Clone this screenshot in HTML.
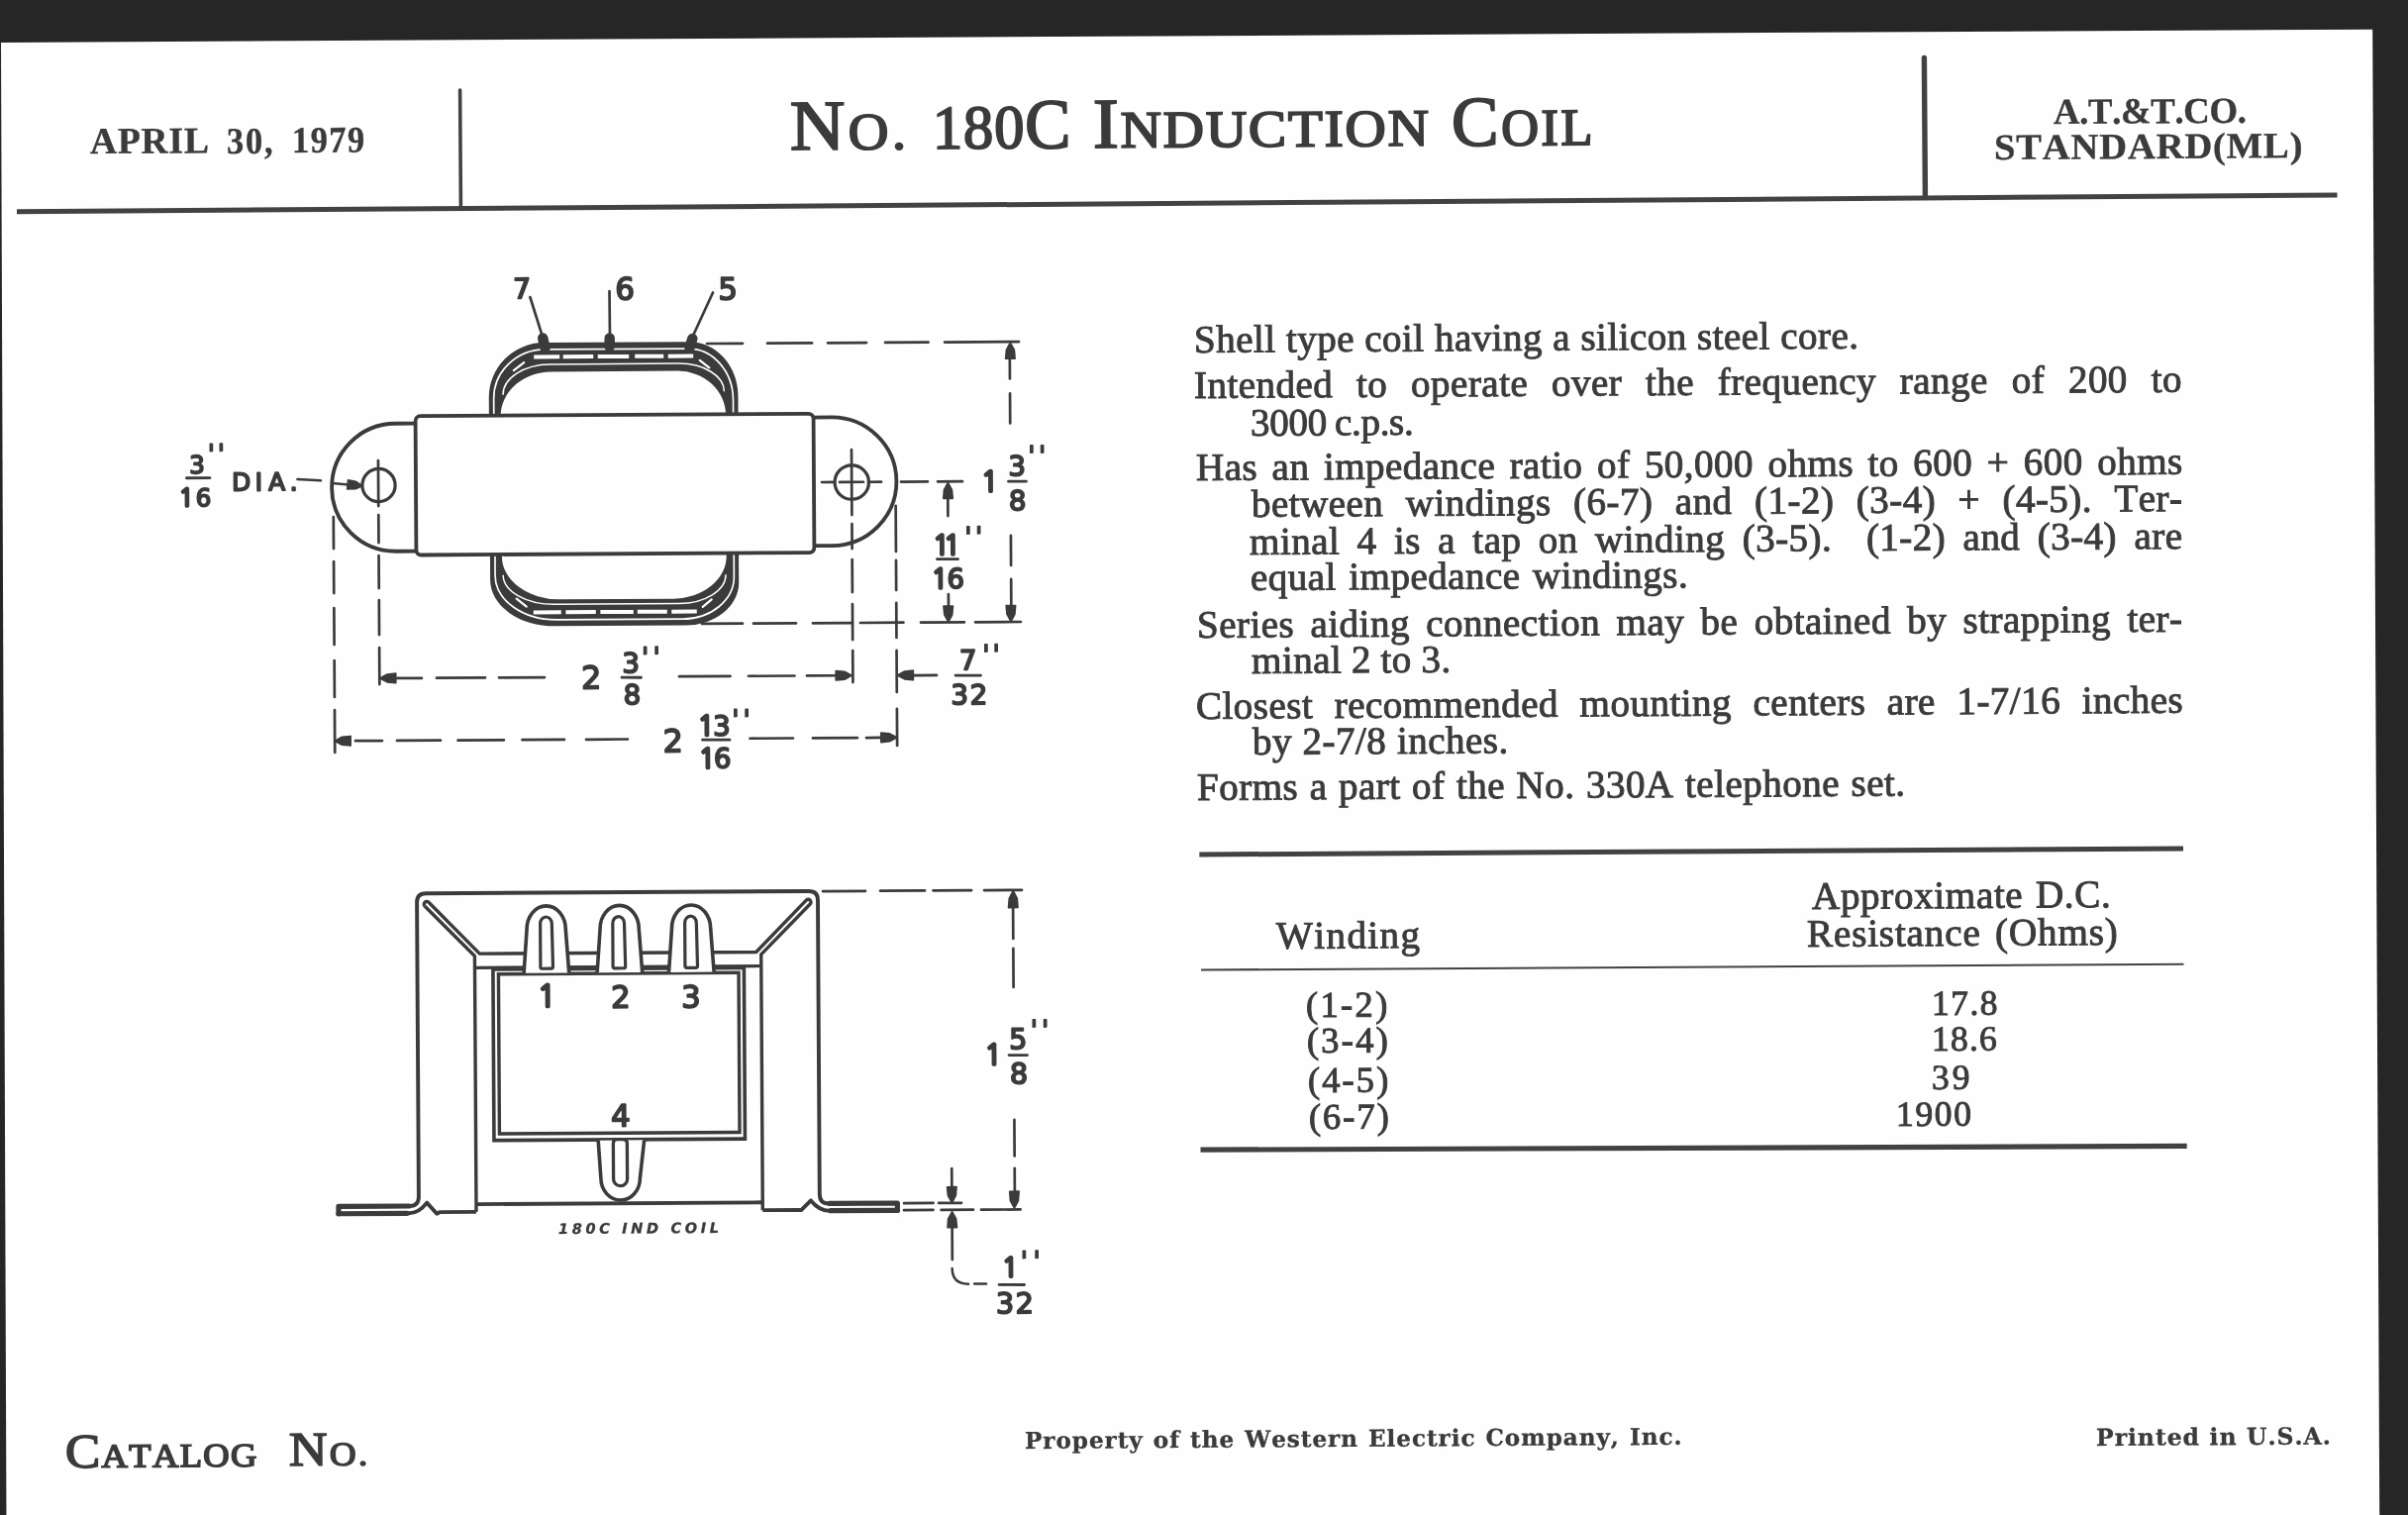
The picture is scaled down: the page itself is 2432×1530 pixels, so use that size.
<!DOCTYPE html>
<html lang="en"><head><meta charset="utf-8"><title>No. 180C Induction Coil</title>
<style>
html,body{margin:0;padding:0}
body{width:2432px;height:1530px;overflow:hidden;position:relative;background:#262626;color:#3b3b3b}
#pg{position:absolute;left:-10px;top:-10px;width:2452px;height:1550px;filter:blur(.55px)}
#pg>*{margin-left:10px;margin-top:10px}
#art{position:absolute;left:0;top:0}
.t{position:absolute;white-space:pre;line-height:1;font-kerning:none;font-variant-ligatures:none;
transform:rotate(-0.3610deg)}
</style></head>
<body>
<div id="pg">
<svg id="art" width="2432" height="1545" viewBox="0 0 2432 1545">
<polygon points="1,42.9 2396.2,29.7 2403.3,1545 6.5,1545" fill="#fefefe"/>
<g stroke="#424242" fill="none" stroke-linecap="butt">
<path d="M17,213.8Q1188,208.4 2360.5,197" stroke-width="5"/>
<line x1="464.6" y1="91" x2="465.4" y2="211" stroke-width="3.6" stroke-linecap="round"/>
<line x1="1943.4" y1="58.5" x2="1944.4" y2="197" stroke-width="5.4" stroke-linecap="round"/>
<line x1="1211.3" y1="863" x2="2205" y2="857" stroke-width="5"/>
<line x1="1213" y1="979.5" x2="2205.5" y2="973.8" stroke-width="2.1"/>
<line x1="1212.5" y1="1161.2" x2="2208.7" y2="1157.4" stroke-width="5.2"/>
</g>
<g fill="#3b3b3b">
<g transform="rotate(-0.3495 620 489)" stroke="#3b3b3b" fill="none" font-family="'DejaVu Sans','Liberation Sans',sans-serif" style="font-kerning:none"><path d="M494.3,425V401.0A55.7,55.4 0 0 1 550.0,345.6H697.0A49,55 0 0 1 746.0,400.6V425Z" fill="#3b3b3b" stroke="none"/>
<path d="M506.0,425V420.0A51,45 0 0 1 557.0,375.0H685.0A48.5,45 0 0 1 733.5,420.0V425Z" fill="#fefefe" stroke="none"/>
<path d="M499.2,425V402.0A51.8,49.5 0 0 1 551.0,352.5H696.0A45,52 0 0 1 741.0,404.5V425" stroke="#fff" stroke-width="1.7" fill="none"/>
<path d="M508.6,398A47.4,30.5 0 0 1 556,367.5H686A46,28.5 0 0 1 732,396" stroke="#fff" stroke-width="1.5" fill="none"/>
<path d="M540,360.0H566M569.5,360.0H600M604.5,360.0H636M642,360.0H671M675.5,360.0H701" stroke="#fff" stroke-width="4" fill="none"/>
<path d="M519.5,373.5L530,365.5M707.5,364.5L717,372" stroke="#fff" stroke-width="2.2" stroke-linecap="round" fill="none"/>
<path d="M494.5,553V585.0A65,47 0 0 0 559.5,632.0H691.6A54,43 0 0 0 745.6,589.0V553Z" fill="#3b3b3b" stroke="none"/>
<path d="M506.5,553V561.5A58,43.5 0 0 0 564.5,605.0H679.3A54,43 0 0 0 733.3,562.0V553Z" fill="#fefefe" stroke="none"/>
<path d="M499.5,553V580.6A62,45 0 0 0 561.5,625.6H688.8A52,42.5 0 0 0 740.8,583.1V553" stroke="#fff" stroke-width="1.7" fill="none"/>
<path d="M507.6,580A52.4,30 0 0 0 560,610H685A47.5,29 0 0 0 732.5,581" stroke="#fff" stroke-width="1.5" fill="none"/>
<path d="M538,618.0H566M570.6,618.0H601M605.6,618.0H639M643,618.0H673M677.5,618.0H703" stroke="#fff" stroke-width="4" fill="none"/>
<path d="M521,604L531,612M709,613.5L718,606" stroke="#fff" stroke-width="2.2" stroke-linecap="round" fill="none"/>
<line x1="549.1" y1="341.1" x2="551.4" y2="351.1" stroke-width="10.5" stroke-linecap="round"/>
<line x1="616.6" y1="341.5" x2="616.5" y2="350.0" stroke-width="10.5" stroke-linecap="round"/>
<line x1="700.2" y1="342.5" x2="697.4" y2="351.5" stroke-width="10.5" stroke-linecap="round"/>
<line x1="536.5" y1="299.5" x2="548.9" y2="339.6" stroke-width="2.7" stroke-linecap="round"/>
<line x1="616.7" y1="294.0" x2="616.9" y2="340.0" stroke-width="2.7" stroke-linecap="round"/>
<line x1="721.2" y1="296.1" x2="700.4" y2="340.5" stroke-width="2.7" stroke-linecap="round"/>
<path d="M421,426.4H399.6A64.5,64.5 0 0 0 399.6,555.4H421" stroke-width="3.8" fill="#fefefe"/>
<path d="M821,422.8H840A65.4,64.8 0 0 1 840,552.4H821" stroke-width="3.8" fill="#fefefe"/>
<rect x="420" y="419" width="402" height="140.3" rx="5" ry="5" fill="#fefefe" stroke-width="3.8"/>
<circle cx="382.5" cy="488.6" r="16.6" stroke-width="3.2"/>
<circle cx="860.3" cy="488.5" r="17.2" stroke-width="3.2"/>
<path d="M382.1,463.6V509.6M382.1,518.6V546.6M382.1,559.6V592.6M382.1,604.6V639.6M382.1,652.6V689.6" stroke-width="2.7" stroke-linecap="round" fill="none"/>
<path d="M336.6,520.3V552.3M336.6,565.3V597.3M336.6,612.3V649.3M336.6,665.3V702.3M336.6,715.3V758.3" stroke-width="2.7" stroke-linecap="round" fill="none"/>
<path d="M860.2,455.5V521.5M860.2,530.5V555.5M860.2,566.5V599.5M860.2,611.5V647.5M860.2,658.5V690.5" stroke-width="2.7" stroke-linecap="round" fill="none"/>
<path d="M904.5,512.7V558.7M904.5,567.7V597.7M904.5,610.7V645.7M904.5,658.7V700.7M904.5,717.7V754.7" stroke-width="2.7" stroke-linecap="round" fill="none"/>
<path d="M830.0,488.3H843.0M848.0,488.3H872.0M877.0,488.3H890.0M910.0,488.3H937.0M947.0,488.3H972.0" stroke-width="2.7" stroke-linecap="round" fill="none"/>
<line x1="300.5" y1="482.1" x2="324.0" y2="483.5" stroke-width="2.6" stroke-linecap="round"/>
<line x1="336.0" y1="486.3" x2="352.0" y2="487.9" stroke-width="2.6" stroke-linecap="round"/>
<polygon points="366.0,489.1 358.9,492.2 350.6,492.2 351.5,483.2 359.6,484.7" fill="#3b3b3b" stroke-width="1.6" stroke-linejoin="round"/>
<path d="M714.9,347.6H750.9M775.9,347.6H820.9M836.9,347.6H875.9M894.9,347.6H938.4M954.9,347.6H1029.9" stroke-width="2.7" stroke-linecap="round" fill="none"/>
<path d="M708.1,630.5H749.1M760.1,630.5H803.1M820.1,630.5H859.1M868.1,630.5H911.6M929.1,630.5H973.1M984.1,630.5H1030.1" stroke-width="2.7" stroke-linecap="round" fill="none"/>
<path d="M1020.6,362.4V384.9M1020.6,399.9V429.9M1020.6,543.4V573.4M1020.6,587.4V617.4" stroke-width="2.7" stroke-linecap="round" fill="none"/>
<polygon points="1021.2,348.7 1025.2,355.9 1025.9,364.7 1016.4,364.7 1017.2,355.9" fill="#3b3b3b" stroke-width="1.6" stroke-linejoin="round"/>
<polygon points="1020.2,630.0 1016.2,622.8 1015.4,614.0 1024.9,614.0 1024.1,622.8" fill="#3b3b3b" stroke-width="1.6" stroke-linejoin="round"/>
<path d="M957.2,505.1V523.1M957.2,602.1V617.1" stroke-width="2.7" stroke-linecap="round" fill="none"/>
<polygon points="957.4,489.5 961.4,496.7 962.2,505.5 952.7,505.5 953.4,496.7" fill="#3b3b3b" stroke-width="1.6" stroke-linejoin="round"/>
<polygon points="957.0,630.1 953.0,622.9 952.2,614.1 961.7,614.1 960.9,622.9" fill="#3b3b3b" stroke-width="1.6" stroke-linejoin="round"/>
<path d="M399.8,683.6H424.8M439.8,683.6H488.8M502.8,683.6H548.8M684.8,683.6H736.3M754.8,683.6H801.3M813.8,683.6H842.8" stroke-width="2.7" stroke-linecap="round" fill="none"/>
<polygon points="382.6,683.6 389.8,679.6 398.6,678.8 398.6,688.3 389.8,687.5" fill="#3b3b3b" stroke-width="1.6" stroke-linejoin="round"/>
<polygon points="859.0,683.6 851.8,687.6 843.0,688.3 843.0,678.8 851.8,679.6" fill="#3b3b3b" stroke-width="1.6" stroke-linejoin="round"/>
<path d="M921.8,683.9H944.8" stroke-width="2.7" stroke-linecap="round" fill="none"/>
<polygon points="905.2,683.7 912.4,679.8 921.2,679.0 921.2,688.5 912.4,687.7" fill="#3b3b3b" stroke-width="1.6" stroke-linejoin="round"/>
<path d="M357.4,746.6H384.4M399.4,746.6H443.4M460.9,746.6H507.4M525.9,746.6H568.4M590.4,746.6H632.4M755.9,746.6H799.4M819.4,746.6H864.4M873.4,746.6H887.4" stroke-width="2.7" stroke-linecap="round" fill="none"/>
<polygon points="336.6,746.6 343.8,742.6 352.6,741.8 352.6,751.3 343.8,750.6" fill="#3b3b3b" stroke-width="1.6" stroke-linejoin="round"/>
<polygon points="904.2,746.5 897.0,750.5 888.2,751.3 888.2,741.8 897.0,742.6" fill="#3b3b3b" stroke-width="1.6" stroke-linejoin="round"/>
<text x="519.5" y="300.6" font-size="28" stroke-width="1.9" stroke-linejoin="round" fill="#3b3b3b">7</text>
<text x="622.6" y="302.6" font-size="30.5" stroke-width="1.9" stroke-linejoin="round" fill="#3b3b3b">6</text>
<text x="726.6" y="303.2" font-size="30.5" stroke-width="1.9" stroke-linejoin="round" fill="#3b3b3b">5</text>
<text x="191.3" y="475.4" font-size="24.5" stroke-width="1.9" stroke-linejoin="round" fill="#3b3b3b">3</text>
<line x1="188.5" y1="480.1" x2="212.0" y2="480.2" stroke-width="2.8" stroke-linecap="round"/>
<text x="180.7 197.5" y="508.7" font-size="24.5" stroke-width="1.9" stroke-linejoin="round" fill="#3b3b3b"><tspan font-family="'NanumGothic','IPAGothic','DejaVu Sans',sans-serif" font-size="24.5" stroke-width="2.9">1</tspan>6</text>
<text x="209.8 220.0" y="465.4" font-size="27" stroke-width="1.5" stroke-linejoin="round" fill="#3b3b3b">&#39;&#39;</text>
<text x="234.3 257.6 271.3 292.8" y="493.2" font-size="24.6" stroke-width="1.9" stroke-linejoin="round" fill="#3b3b3b">DIA.</text>
<text x="990.9" y="498.8" font-size="28.5" stroke-width="1.9" stroke-linejoin="round" fill="#3b3b3b"><tspan font-family="'NanumGothic','IPAGothic','DejaVu Sans',sans-serif" font-size="28.5" stroke-width="2.9">1</tspan></text>
<text x="1018.6" y="482.8" font-size="27.5" stroke-width="1.9" stroke-linejoin="round" fill="#3b3b3b">3</text>
<line x1="1018.5" y1="488.6" x2="1036.5" y2="488.7" stroke-width="2.8" stroke-linecap="round"/>
<text x="1018.8" y="517.7" font-size="27.5" stroke-width="1.9" stroke-linejoin="round" fill="#3b3b3b">8</text>
<text x="1038.3 1049.0" y="472.0" font-size="27" stroke-width="1.5" stroke-linejoin="round" fill="#3b3b3b">&#39;&#39;</text>
<text x="941.9 952.9" y="562.3" font-size="27.5" stroke-width="1.9" stroke-linejoin="round" fill="#3b3b3b"><tspan font-family="'NanumGothic','IPAGothic','DejaVu Sans',sans-serif" font-size="27.5" stroke-width="2.9">1</tspan><tspan font-family="'NanumGothic','IPAGothic','DejaVu Sans',sans-serif" font-size="27.5" stroke-width="2.9">1</tspan></text>
<line x1="946.0" y1="566.7" x2="967.0" y2="566.8" stroke-width="2.8" stroke-linecap="round"/>
<text x="940.2 955.8" y="596.1" font-size="27.5" stroke-width="1.9" stroke-linejoin="round" fill="#3b3b3b"><tspan font-family="'NanumGothic','IPAGothic','DejaVu Sans',sans-serif" font-size="27.5" stroke-width="2.9">1</tspan>6</text>
<text x="973.8 984.5" y="553.6" font-size="27" stroke-width="1.5" stroke-linejoin="round" fill="#3b3b3b">&#39;&#39;</text>
<text x="585.9" y="695.4" font-size="31.5" stroke-width="1.9" stroke-linejoin="round" fill="#3b3b3b">2</text>
<text x="627.4" y="679.4" font-size="27.5" stroke-width="1.9" stroke-linejoin="round" fill="#3b3b3b">3</text>
<line x1="626.8" y1="684.2" x2="646.3" y2="684.4" stroke-width="2.8" stroke-linecap="round"/>
<text x="628.4" y="711.3" font-size="27.5" stroke-width="1.9" stroke-linejoin="round" fill="#3b3b3b">8</text>
<text x="647.0 658.3" y="673.1" font-size="27" stroke-width="1.5" stroke-linejoin="round" fill="#3b3b3b">&#39;&#39;</text>
<text x="967.9" y="678.5" font-size="27.5" stroke-width="1.9" stroke-linejoin="round" fill="#3b3b3b">7</text>
<line x1="963.8" y1="684.2" x2="989.3" y2="684.4" stroke-width="2.8" stroke-linecap="round"/>
<text x="959.2 978.3" y="713.4" font-size="27.5" stroke-width="1.9" stroke-linejoin="round" fill="#3b3b3b">32</text>
<text x="991.1 1001.3" y="672.7" font-size="27" stroke-width="1.5" stroke-linejoin="round" fill="#3b3b3b">&#39;&#39;</text>
<text x="668.0" y="759.7" font-size="31.5" stroke-width="1.9" stroke-linejoin="round" fill="#3b3b3b">2</text>
<text x="703.3 718.8" y="743.3" font-size="27.5" stroke-width="1.9" stroke-linejoin="round" fill="#3b3b3b"><tspan font-family="'NanumGothic','IPAGothic','DejaVu Sans',sans-serif" font-size="27.5" stroke-width="2.9">1</tspan>3</text>
<line x1="707.9" y1="747.7" x2="735.4" y2="747.9" stroke-width="2.8" stroke-linecap="round"/>
<text x="704.1 719.2" y="776.2" font-size="27.5" stroke-width="1.9" stroke-linejoin="round" fill="#3b3b3b"><tspan font-family="'NanumGothic','IPAGothic','DejaVu Sans',sans-serif" font-size="27.5" stroke-width="2.9">1</tspan>6</text>
<text x="737.7 748.9" y="736.7" font-size="27" stroke-width="1.5" stroke-linejoin="round" fill="#3b3b3b">&#39;&#39;</text></g>
<g transform="rotate(-0.3495 625 1060)" stroke="#3b3b3b" fill="none" font-family="'DejaVu Sans','Liberation Sans',sans-serif" style="font-kerning:none"><path d="M339.8,1216.7H413.0Q422.0,1216.7 422.0,1207.2V910.1Q422.0,901.1 431.0,901.1H817.9Q826.9,901.1 826.9,910.1V1207.2Q826.9,1216.7 835.9,1216.7H906.4" stroke-width="3.9" stroke-linejoin="round"/>
<path d="M341,1216.7H412.0M836.9,1216.7H905.4M341,1216.7V1224.0M905.4,1216.7V1224.0" stroke-width="5.2" stroke-linecap="round"/>
<path d="M341,1224.0H410" stroke-width="5.2" stroke-linecap="round"/><path d="M408,1224.0H412Q422,1224.0 430.2,1213.4L440.2,1224.6L443.5,1223.0H480.0" stroke-width="3.9" stroke-linejoin="round"/>
<path d="M905.4,1224.0H838" stroke-width="5.2" stroke-linecap="round"/><path d="M840,1224.0H836.5Q826.5,1224.0 818,1213.6L808.2,1223.2L805.5,1223.0H769.3" stroke-width="3.9" stroke-linejoin="round"/>
<path d="M480.0,1215.2H769.3" stroke-width="3.9"/>
<path d="M430.0,914.0A2.7,2.7 0 0 1 433.9,910.1L485.0,962.3H764.3L815.2,910.3A2.7,2.7 0 0 1 819.1,914.2L769.3,964.8V1223.0" stroke-width="3.4" stroke-linejoin="round"/>
<path d="M430.0,914.0L480.0,964.6V1223.0" stroke-width="3.4" stroke-linejoin="round"/>
<path d="M480.0,976.4H769.3" stroke-width="3.2"/>
<rect x="498.4" y="978.2" width="253.5" height="172.7" stroke-width="3.6"/>
<rect x="503.9" y="983.0" width="242.6" height="161.3" stroke-width="3.4"/>
<path d="M529.6,982.2L532.8,938A19.6,23.6 0 0 1 572.0,938L575.1999999999999,982.2" fill="#fefefe" stroke-width="3.6" stroke-linejoin="round"/>
<path d="M546.4000000000001,976V932.5A5.4,6.4 0 0 1 558.1,932.5L559.0,976Q559.0,977.8 557.1,977.8H548.3000000000001Q546.4000000000001,977.8 546.4000000000001,976Z" stroke-width="3.2"/>
<path d="M603.6,982.2L606.8,938A19.6,23.6 0 0 1 646.0,938L649.1999999999999,982.2" fill="#fefefe" stroke-width="3.6" stroke-linejoin="round"/>
<path d="M619.6,976V932.5A5.4,6.4 0 0 1 631.3,932.5L632.1999999999999,976Q632.1999999999999,977.8 630.3,977.8H621.5Q619.6,977.8 619.6,976Z" stroke-width="3.2"/>
<path d="M676.0,982.2L679.1999999999999,938A19.6,23.6 0 0 1 718.4,938L721.5999999999999,982.2" fill="#fefefe" stroke-width="3.6" stroke-linejoin="round"/>
<path d="M692.4000000000001,976V932.5A5.4,6.4 0 0 1 704.1,932.5L705.0,976Q705.0,977.8 703.1,977.8H694.3000000000001Q692.4000000000001,977.8 692.4000000000001,976Z" stroke-width="3.2"/>
<path d="M603.6,1151.5L606.1,1190A19.75,22 0 0 0 645.6,1190L650.1,1151.5" fill="#fefefe" stroke-width="3.6" stroke-linejoin="round"/>
<path d="M618.8,1154.6Q618.8,1150.6 622.8,1150.6H628.8Q632.8,1150.6 632.8,1154.6V1190.7A7,7 0 0 1 618.8,1190.7Z" stroke-width="3.3"/>
<path d="M832.0,901.3H875.0M890.0,901.3H935.0M943.5,901.3H982.0M995.0,901.3H1033.0" stroke-width="2.7" stroke-linecap="round" fill="none"/>
<path d="M1024.0,918.4V950.4M1024.0,960.4V999.4M1024.0,1133.4V1169.9M1024.0,1182.4V1206.4" stroke-width="2.7" stroke-linecap="round" fill="none"/>
<polygon points="1024.2,902.0 1028.2,909.7 1028.9,919.0 1019.4,919.0 1020.2,909.7" fill="#3b3b3b" stroke-width="1.6" stroke-linejoin="round"/>
<polygon points="1023.5,1222.6 1019.5,1215.0 1018.8,1205.6 1028.3,1205.6 1027.5,1215.0" fill="#3b3b3b" stroke-width="1.6" stroke-linejoin="round"/>
<path d="M912.1,1216.9H941.6M947.1,1216.9H970.1" stroke-width="2.7" stroke-linecap="round" fill="none"/>
<path d="M912.0,1223.9H941.5M949.6,1223.9H982.0M990.0,1223.9H1029.6" stroke-width="2.7" stroke-linecap="round" fill="none"/>
<path d="M960.5,1182.1V1201.1M960.5,1241.1V1274.1" stroke-width="2.7" stroke-linecap="round" fill="none"/>
<polygon points="960.5,1216.7 956.5,1209.5 955.7,1200.7 965.2,1200.7 964.4,1209.5" fill="#3b3b3b" stroke-width="1.6" stroke-linejoin="round"/>
<polygon points="960.6,1225.7 964.6,1232.9 965.4,1241.7 955.9,1241.7 956.6,1232.9" fill="#3b3b3b" stroke-width="1.6" stroke-linejoin="round"/>
<path d="M960.3,1283.1Q960.3,1298.8 976.6,1298.8M982.6,1298.8h12" stroke-width="2.5" stroke-linecap="round"/>
<text x="543.3" y="1016.2" font-size="30.5" stroke-width="1.9" stroke-linejoin="round" fill="#3b3b3b"><tspan font-family="'NanumGothic','IPAGothic','DejaVu Sans',sans-serif" font-size="30.5" stroke-width="2.9">1</tspan></text>
<text x="617.5" y="1017.6" font-size="30.5" stroke-width="1.9" stroke-linejoin="round" fill="#3b3b3b">2</text>
<text x="688.4" y="1017.8" font-size="30.5" stroke-width="1.9" stroke-linejoin="round" fill="#3b3b3b">3</text>
<text x="616.9" y="1137.4" font-size="30.5" stroke-width="1.9" stroke-linejoin="round" fill="#3b3b3b">4</text>
<text x="994.4" y="1077.5" font-size="28.5" stroke-width="1.9" stroke-linejoin="round" fill="#3b3b3b"><tspan font-family="'NanumGothic','IPAGothic','DejaVu Sans',sans-serif" font-size="28.5" stroke-width="2.9">1</tspan></text>
<text x="1019.3" y="1061.7" font-size="28.5" stroke-width="1.9" stroke-linejoin="round" fill="#3b3b3b">5</text>
<line x1="1019.0" y1="1068.0" x2="1037.5" y2="1068.1" stroke-width="2.8" stroke-linecap="round"/>
<text x="1019.7" y="1096.7" font-size="28.5" stroke-width="1.9" stroke-linejoin="round" fill="#3b3b3b">8</text>
<text x="1040.7 1052.0" y="1052.0" font-size="27" stroke-width="1.5" stroke-linejoin="round" fill="#3b3b3b">&#39;&#39;</text>
<text x="1010.6" y="1291.9" font-size="27" stroke-width="1.9" stroke-linejoin="round" fill="#3b3b3b"><tspan font-family="'NanumGothic','IPAGothic','DejaVu Sans',sans-serif" font-size="27.0" stroke-width="2.9">1</tspan></text>
<line x1="1007.6" y1="1299.8" x2="1033.1" y2="1300.0" stroke-width="2.8" stroke-linecap="round"/>
<text x="1004.4 1024.2" y="1328.7" font-size="28.5" stroke-width="1.9" stroke-linejoin="round" fill="#3b3b3b">32</text>
<text x="1029.3 1042.1" y="1285.4" font-size="27" stroke-width="1.5" stroke-linejoin="round" fill="#3b3b3b">&#39;&#39;</text>
<text x="562.9" y="1245.6" font-size="14.5" font-weight="bold" font-style="oblique" stroke-width="0.3" fill="#3b3b3b" textLength="162" lengthAdjust="spacing" style="white-space:pre">180C IND COIL</text></g>
</g>
</svg>
<div class="t" style="left:90.87px;top:124.30px;font-family:'Liberation Serif','Times New Roman',serif;font-weight:bold;font-size:37.6px;letter-spacing:0.756px;word-spacing:0.000px;transform-origin:0 31.00px;-webkit-text-stroke:0.35px #3b3b3b;">APRIL</div>
<div class="t" style="left:228.96px;top:123.50px;font-family:'Liberation Serif','Times New Roman',serif;font-weight:bold;font-size:37.6px;letter-spacing:1.915px;word-spacing:0.000px;transform-origin:0 31.00px;-webkit-text-stroke:0.35px #3b3b3b;transform:rotate(-0.3610deg) scaleX(0.92);">30,</div>
<div class="t" style="left:294.96px;top:123.00px;font-family:'Liberation Serif','Times New Roman',serif;font-weight:bold;font-size:37.6px;letter-spacing:1.487px;word-spacing:0.000px;transform-origin:0 31.00px;-webkit-text-stroke:0.35px #3b3b3b;transform:rotate(-0.3610deg) scaleX(0.92);">1979</div>
<div class="t" style="left:797.69px;top:91.00px;font-family:'Liberation Serif','Times New Roman',serif;font-weight:normal;font-size:71.5px;letter-spacing:3.073px;word-spacing:0.000px;transform-origin:0 60.00px;-webkit-text-stroke:1.9px #3b3b3b;transform:rotate(-0.3610deg) scaleX(1.075);"><span style="font-size:71.5px">N</span><span style="font-size:52.5px">O.</span></div>
<div class="t" style="left:941.92px;top:90.20px;font-family:'Liberation Serif','Times New Roman',serif;font-weight:normal;font-size:71.5px;letter-spacing:0.790px;word-spacing:0.000px;transform-origin:0 60.00px;-webkit-text-stroke:1.9px #3b3b3b;transform:rotate(-0.3610deg) scaleX(0.97);"><span style="font-size:62.5px">180</span><span style="font-size:71.5px">C</span></div>
<div class="t" style="left:1103.66px;top:89.30px;font-family:'Liberation Serif','Times New Roman',serif;font-weight:normal;font-size:71.5px;letter-spacing:1.640px;word-spacing:0.000px;transform-origin:0 60.00px;-webkit-text-stroke:1.9px #3b3b3b;transform:rotate(-0.3610deg) scaleX(1.09);"><span style="font-size:71.5px">I</span><span style="font-size:52.5px">NDUCTION</span></div>
<div class="t" style="left:1465.86px;top:87.00px;font-family:'Liberation Serif','Times New Roman',serif;font-weight:normal;font-size:71.5px;letter-spacing:2.492px;word-spacing:0.000px;transform-origin:0 60.00px;-webkit-text-stroke:1.9px #3b3b3b;"><span style="font-size:71.5px">C</span><span style="font-size:52.5px">OIL</span></div>
<div class="t" style="left:2074.40px;top:94.51px;font-family:'Liberation Serif','Times New Roman',serif;font-weight:bold;font-size:36.8px;letter-spacing:-0.380px;word-spacing:0.000px;transform-origin:0 30.00px;-webkit-text-stroke:0.35px #3b3b3b;">A.T.&amp;T.CO.</div>
<div class="t" style="left:2014.34px;top:131.17px;font-family:'Liberation Serif','Times New Roman',serif;font-weight:bold;font-size:36.8px;letter-spacing:0.768px;word-spacing:0.000px;transform-origin:0 30.00px;-webkit-text-stroke:0.35px #3b3b3b;transform:rotate(-0.3610deg) scaleX(1.05);">STANDARD(ML)</div>
<div class="t" style="left:1205.82px;top:323.40px;font-family:'Liberation Serif','Times New Roman',serif;font-weight:normal;font-size:39.2px;letter-spacing:0.400px;word-spacing:0.128px;transform-origin:0 33.00px;-webkit-text-stroke:0.95px #3b3b3b;">Shell type coil having a silicon steel core.</div>
<div class="t" style="left:1206.32px;top:369.00px;font-family:'Liberation Serif','Times New Roman',serif;font-weight:normal;font-size:39.2px;letter-spacing:0.400px;word-spacing:13.577px;transform-origin:0 33.00px;-webkit-text-stroke:0.95px #3b3b3b;">Intended to operate over the frequency range of 200 to</div>
<div class="t" style="left:1262.57px;top:406.60px;font-family:'Liberation Serif','Times New Roman',serif;font-weight:normal;font-size:39.2px;letter-spacing:-0.351px;word-spacing:-1.500px;transform-origin:0 33.00px;-webkit-text-stroke:0.95px #3b3b3b;">3000 c.p.s.</div>
<div class="t" style="left:1207.57px;top:451.60px;font-family:'Liberation Serif','Times New Roman',serif;font-weight:normal;font-size:39.2px;letter-spacing:0.400px;word-spacing:4.279px;transform-origin:0 33.00px;-webkit-text-stroke:0.95px #3b3b3b;">Has an impedance ratio of 50,000 ohms to 600 + 600 ohms</div>
<div class="t" style="left:1263.82px;top:489.00px;font-family:'Liberation Serif','Times New Roman',serif;font-weight:normal;font-size:39.2px;letter-spacing:0.400px;word-spacing:12.220px;transform-origin:0 33.00px;-webkit-text-stroke:0.95px #3b3b3b;">between windings (6-7) and (1-2) (3-4) + (4-5). Ter-</div>
<div class="t" style="left:1261.82px;top:526.50px;font-family:'Liberation Serif','Times New Roman',serif;font-weight:normal;font-size:39.2px;letter-spacing:0.400px;word-spacing:7.148px;transform-origin:0 33.00px;-webkit-text-stroke:0.95px #3b3b3b;">minal 4 is a tap on winding (3-5).  (1-2) and (3-4) are</div>
<div class="t" style="left:1263.32px;top:562.90px;font-family:'Liberation Serif','Times New Roman',serif;font-weight:normal;font-size:39.2px;letter-spacing:0.400px;word-spacing:2.255px;transform-origin:0 33.00px;-webkit-text-stroke:0.95px #3b3b3b;">equal impedance windings.</div>
<div class="t" style="left:1208.82px;top:610.80px;font-family:'Liberation Serif','Times New Roman',serif;font-weight:normal;font-size:39.2px;letter-spacing:0.400px;word-spacing:6.177px;transform-origin:0 33.00px;-webkit-text-stroke:0.95px #3b3b3b;">Series aiding connection may be obtained by strapping ter-</div>
<div class="t" style="left:1263.82px;top:647.30px;font-family:'Liberation Serif','Times New Roman',serif;font-weight:normal;font-size:39.2px;letter-spacing:0.400px;word-spacing:-0.537px;transform-origin:0 33.00px;-webkit-text-stroke:0.95px #3b3b3b;">minal 2 to 3.</div>
<div class="t" style="left:1208.32px;top:692.60px;font-family:'Liberation Serif','Times New Roman',serif;font-weight:normal;font-size:39.2px;letter-spacing:0.400px;word-spacing:11.334px;transform-origin:0 33.00px;-webkit-text-stroke:0.95px #3b3b3b;">Closest recommended mounting centers are 1-7/16 inches</div>
<div class="t" style="left:1265.07px;top:729.00px;font-family:'Liberation Serif','Times New Roman',serif;font-weight:normal;font-size:39.2px;letter-spacing:0.400px;word-spacing:0.438px;transform-origin:0 33.00px;-webkit-text-stroke:0.95px #3b3b3b;">by 2-7/8 inches.</div>
<div class="t" style="left:1208.82px;top:775.00px;font-family:'Liberation Serif','Times New Roman',serif;font-weight:normal;font-size:39.2px;letter-spacing:0.400px;word-spacing:1.304px;transform-origin:0 33.00px;-webkit-text-stroke:0.95px #3b3b3b;">Forms a part of the No. 330A telephone set.</div>
<div class="t" style="left:1288.82px;top:925.40px;font-family:'Liberation Serif','Times New Roman',serif;font-weight:normal;font-size:39.2px;letter-spacing:1.318px;word-spacing:0.000px;transform-origin:0 33.00px;-webkit-text-stroke:0.95px #3b3b3b;">Winding</div>
<div class="t" style="left:1830.07px;top:884.60px;font-family:'Liberation Serif','Times New Roman',serif;font-weight:normal;font-size:39.2px;letter-spacing:0.600px;word-spacing:2.189px;transform-origin:0 33.00px;-webkit-text-stroke:0.95px #3b3b3b;">Approximate D.C.</div>
<div class="t" style="left:1825.07px;top:923.20px;font-family:'Liberation Serif','Times New Roman',serif;font-weight:normal;font-size:39.2px;letter-spacing:0.800px;word-spacing:3.889px;transform-origin:0 33.00px;-webkit-text-stroke:0.95px #3b3b3b;">Resistance (Ohms)</div>
<div class="t" style="left:1319.40px;top:997.20px;font-family:'Liberation Serif','Times New Roman',serif;font-weight:normal;font-size:36.6px;letter-spacing:2.313px;word-spacing:0.000px;transform-origin:0 30.00px;-webkit-text-stroke:0.95px #3b3b3b;">(1-2)</div>
<div class="t" style="left:1320.40px;top:1033.40px;font-family:'Liberation Serif','Times New Roman',serif;font-weight:normal;font-size:36.6px;letter-spacing:2.188px;word-spacing:0.000px;transform-origin:0 30.00px;-webkit-text-stroke:0.95px #3b3b3b;">(3-4)</div>
<div class="t" style="left:1320.90px;top:1072.60px;font-family:'Liberation Serif','Times New Roman',serif;font-weight:normal;font-size:36.6px;letter-spacing:2.063px;word-spacing:0.000px;transform-origin:0 30.00px;-webkit-text-stroke:0.95px #3b3b3b;">(4-5)</div>
<div class="t" style="left:1321.90px;top:1109.60px;font-family:'Liberation Serif','Times New Roman',serif;font-weight:normal;font-size:36.6px;letter-spacing:1.938px;word-spacing:0.000px;transform-origin:0 30.00px;-webkit-text-stroke:0.95px #3b3b3b;">(6-7)</div>
<div class="t" style="left:1950.93px;top:995.60px;font-family:'Liberation Serif','Times New Roman',serif;font-weight:normal;font-size:35.6px;letter-spacing:1.433px;word-spacing:0.000px;transform-origin:0 29.00px;-webkit-text-stroke:0.95px #3b3b3b;">17.8</div>
<div class="t" style="left:1951.43px;top:1032.00px;font-family:'Liberation Serif','Times New Roman',serif;font-weight:normal;font-size:35.6px;letter-spacing:1.183px;word-spacing:0.000px;transform-origin:0 29.00px;-webkit-text-stroke:0.95px #3b3b3b;">18.6</div>
<div class="t" style="left:1951.43px;top:1070.60px;font-family:'Liberation Serif','Times New Roman',serif;font-weight:normal;font-size:35.6px;letter-spacing:2.986px;word-spacing:0.000px;transform-origin:0 29.00px;-webkit-text-stroke:0.95px #3b3b3b;">39</div>
<div class="t" style="left:1915.18px;top:1108.20px;font-family:'Liberation Serif','Times New Roman',serif;font-weight:normal;font-size:35.6px;letter-spacing:1.636px;word-spacing:0.000px;transform-origin:0 29.00px;-webkit-text-stroke:0.95px #3b3b3b;">1900</div>
<div class="t" style="left:65.91px;top:1441.80px;font-family:'Liberation Serif','Times New Roman',serif;font-weight:normal;font-size:48.6px;letter-spacing:1.170px;word-spacing:0.000px;transform-origin:0 40.00px;-webkit-text-stroke:1.6px #3b3b3b;transform:rotate(-0.3610deg) scaleX(1.09);"><span style="font-size:48.6px">C</span><span style="font-size:33.6px">ATALOG</span></div>
<div class="t" style="left:292.15px;top:1440.00px;font-family:'Liberation Serif','Times New Roman',serif;font-weight:normal;font-size:48.6px;letter-spacing:2.136px;word-spacing:0.000px;transform-origin:0 40.00px;-webkit-text-stroke:1.6px #3b3b3b;transform:rotate(-0.3610deg) scaleX(1.1);"><span style="font-size:48.6px">N</span><span style="font-size:33.6px">O.</span></div>
<div class="t" style="left:1035.30px;top:1442.60px;font-family:'DejaVu Serif','Liberation Serif',serif;font-weight:bold;font-size:23.2px;letter-spacing:0.900px;word-spacing:1.121px;transform-origin:0 20.00px;-webkit-text-stroke:0.3px #3b3b3b;">Property of the Western Electric Company, Inc.</div>
<div class="t" style="left:2116.79px;top:1441.40px;font-family:'DejaVu Serif','Liberation Serif',serif;font-weight:bold;font-size:23.6px;letter-spacing:0.900px;word-spacing:0.411px;transform-origin:0 19.00px;-webkit-text-stroke:0.3px #3b3b3b;">Printed in U.S.A.</div>
</div>
</body></html>
